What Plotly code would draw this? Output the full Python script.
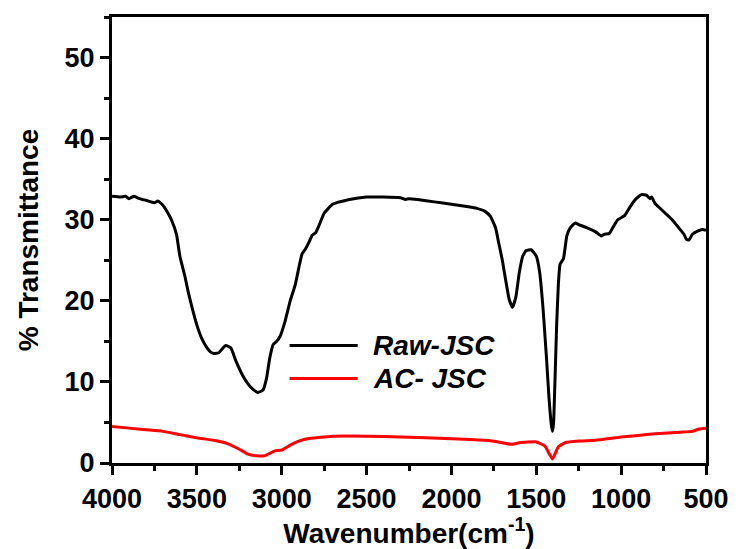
import plotly.graph_objects as go

# Raw-JSC (black)
raw_wn = [4000, 3950, 3920, 3900, 3870, 3850, 3820, 3800, 3770, 3750, 3730, 3710, 3690, 3670,
          3650, 3620, 3600, 3570, 3550, 3520, 3500, 3470, 3440, 3420, 3400, 3370, 3350, 3330,
          3300, 3270, 3230, 3200, 3170, 3140, 3110, 3090, 3070, 3050, 3030, 3010, 2980, 2950,
          2920, 2900, 2880, 2860, 2840, 2820, 2800, 2780, 2750, 2700, 2600, 2500, 2400, 2300,
          2270, 2250, 2200, 2100, 2000, 1900, 1850, 1800, 1770, 1740, 1720, 1700, 1680, 1660,
          1640, 1620, 1600, 1580, 1560, 1530, 1500, 1480, 1460, 1440, 1425, 1410, 1404, 1398,
          1390, 1380, 1370, 1360, 1340, 1320, 1300, 1270, 1250, 1200, 1150, 1118, 1100, 1070,
          1050, 1020, 980, 950, 920, 900, 880, 850, 830, 820, 800, 780, 740, 700, 660, 630,
          616, 600, 580, 550, 520, 500]
raw_t = [32.9, 32.8, 32.9, 32.6, 32.9, 32.7, 32.5, 32.4, 32.2, 32.1, 32.3, 32.0, 31.5, 30.8,
         30.0, 28.2, 25.5, 23.0, 21.0, 18.5, 17.0, 15.3, 14.2, 13.7, 13.5, 13.6, 14.1, 14.5,
         14.2, 12.6, 10.8, 9.8, 9.1, 8.7, 9.0, 10.4, 13.0, 14.6, 15.0, 15.6, 17.5, 20.0, 22.0,
         24.0, 25.8, 26.4, 27.2, 28.1, 28.4, 29.3, 30.8, 31.9, 32.5, 32.8, 32.8, 32.7, 32.5,
         32.6, 32.5, 32.2, 31.9, 31.6, 31.4, 31.0, 30.4, 29.0, 27.0, 25.0, 22.5, 20.2, 19.2,
         20.5, 23.5, 25.5, 26.2, 26.3, 25.5, 23.5, 19.0, 13.0, 8.0, 4.5, 3.9, 5.0, 10.0, 17.0,
         22.0, 24.5, 25.2, 28.0, 29.0, 29.6, 29.4, 29.0, 28.5, 28.0, 28.2, 28.3, 29.0, 30.0,
         30.5, 31.5, 32.4, 32.8, 33.1, 33.0, 32.6, 32.8, 32.0, 31.6, 30.8, 30.0, 29.0, 28.2,
         27.6, 27.5, 28.2, 28.6, 28.8, 28.7]

# AC-JSC (red)
ac_wn = [4000, 3900, 3800, 3700, 3600, 3500, 3400, 3320, 3250, 3200, 3150, 3100, 3070, 3040,
         3000, 2950, 2900, 2850, 2800, 2700, 2500, 2300, 2000, 1800, 1700, 1650, 1600, 1500,
         1450, 1420, 1404, 1390, 1370, 1330, 1250, 1150, 1000, 900, 800, 650, 580, 540, 500]
ac_t = [4.5, 4.3, 4.1, 3.9, 3.5, 3.1, 2.8, 2.4, 1.7, 1.1, 0.9, 0.9, 1.2, 1.5, 1.6, 2.2, 2.7,
        3.0, 3.1, 3.3, 3.3, 3.2, 3.0, 2.8, 2.5, 2.3, 2.5, 2.6, 2.1, 1.0, 0.5, 1.1, 2.0, 2.5,
        2.7, 2.8, 3.2, 3.4, 3.6, 3.8, 3.9, 4.2, 4.3]

x_ticks = [4000, 3500, 3000, 2500, 2000, 1500, 1000, 500]
y_ticks = [0, 10, 20, 30, 40, 50]

FONT = "Liberation Sans"

fig = go.Figure()
fig.add_trace(go.Scatter(x=raw_wn, y=raw_t, mode="lines", name="Raw-JSC",
                         line=dict(color="black", width=3, shape="spline", smoothing=0.4)))
fig.add_trace(go.Scatter(x=ac_wn, y=ac_t, mode="lines", name="AC- JSC",
                         line=dict(color="#ff0000", width=3, shape="spline", smoothing=0.4)))

axis_common = dict(showline=True, linecolor="black", linewidth=3.2, mirror=True,
                   showgrid=False, zeroline=False, ticks="outside", ticklen=9, tickwidth=3,
                   tickcolor="black",
                   tickfont=dict(family=FONT, size=27, color="black", weight="bold"))

fig.update_xaxes(range=[4000, 500], tickvals=x_ticks,
                 minor=dict(ticks="outside", ticklen=5, tickwidth=3, tickcolor="black", dtick=250, tick0=0),
                 title=dict(text="Wavenumber(cm<sup>-1</sup>)", standoff=4,
                            font=dict(family=FONT, size=28, color="black", weight="bold")),
                 **axis_common)
fig.update_yaxes(range=[0, 55], tickvals=y_ticks,
                 minor=dict(ticks="outside", ticklen=5, tickwidth=3, tickcolor="black", dtick=5, tick0=0),
                 title=dict(text="% Transmittance", standoff=18,
                            font=dict(family=FONT, size=28, color="black", weight="bold")),
                 **axis_common)

# manual legend
legend_items = [("Raw-JSC", "black", 0.2637), ("AC- JSC", "#ff0000", 0.1897)]
for label, color, yp in legend_items:
    fig.add_shape(type="line", xref="paper", yref="paper", x0=0.299, x1=0.4136, y0=yp, y1=yp,
                  line=dict(color=color, width=3))
    fig.add_annotation(xref="paper", yref="paper", x=0.436, y=yp, text="<i>" + label + "</i>",
                       showarrow=False, xanchor="left", yanchor="middle",
                       font=dict(family=FONT, size=28, color="black", weight="bold"))

fig.update_layout(width=741, height=549, margin=dict(l=112, r=27, t=17, b=77),
                  plot_bgcolor="white", paper_bgcolor="white", showlegend=False)

fig.write_html("out.html")
